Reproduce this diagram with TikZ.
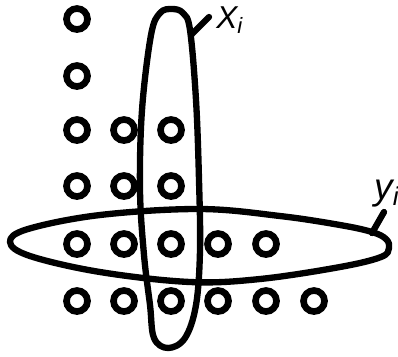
\documentclass[tikz,border=0pt]{standalone}
\usepackage{fontspec}
\setmainfont{Liberation Sans}
\begin{document}
\begin{tikzpicture}[x=0.02cm,y=-0.02cm,
  dot/.style={circle,draw,line width=3.8pt,minimum size=0.42cm,inner sep=0pt},
  band/.style={line width=3.6pt,line join=round},
  leader/.style={line width=3.6pt,line cap=round},
  lbl/.style={font=\itshape\fontsize{18}{18}\selectfont,inner sep=0pt}]
  \useasboundingbox (0,0) rectangle (398,356);
  % grid of points, row by row from the top
  \node[dot] (p11) at (77,19) {};
  \node[dot] (p21) at (77,76) {};
  \node[dot] (p31) at (77,130) {};
  \node[dot] (p32) at (124,130) {};
  \node[dot] (p33) at (171,130) {};
  \node[dot] (p41) at (77,186) {};
  \node[dot] (p42) at (124,186) {};
  \node[dot] (p43) at (171,186) {};
  \node[dot] (p51) at (77,244) {};
  \node[dot] (p52) at (124,244) {};
  \node[dot] (p53) at (171,244) {};
  \node[dot] (p54) at (218,244) {};
  \node[dot] (p55) at (266,244) {};
  \node[dot] (p61) at (77,301) {};
  \node[dot] (p62) at (124,301) {};
  \node[dot] (p63) at (171,301) {};
  \node[dot] (p64) at (218,301) {};
  \node[dot] (p65) at (266,301) {};
  \node[dot] (p66) at (314,301) {};
  % column group
  \draw[band] plot[smooth cycle,tension=0.6] coordinates {
    (172,9) (183,13) (190,30) (196,100) (199,180) (200,250)
    (196,305) (185,338) (168,348) (154,338) (150,305) (144,255)
    (140,190) (142,110) (151,35) (160,13)};
  % row group
  \draw[band] plot[smooth cycle,tension=0.6] coordinates {
    (10,242) (28,229) (100,215) (200,209) (280,216) (340,225)
    (372,232) (386,239) (389,248) (381,257) (340,267) (260,279)
    (190,282) (100,272) (30,256)};
  % labels
  \coordinate (xfoot) at (192,34);
  \coordinate (xtip) at (209,17);
  \draw[leader] (xfoot) -- (xtip);
  \node[lbl,anchor=base west] (xlbl) at (216,28) {X\textsubscript{i}};
  \coordinate (yfoot) at (372,233);
  \coordinate (ytip) at (384,212);
  \draw[leader] (yfoot) -- (ytip);
  \node[lbl,font=\itshape\fontsize{21}{21}\selectfont,anchor=base west] (ylbl) at (374,199) {y\textsubscript{i}};
\end{tikzpicture}
\end{document}
